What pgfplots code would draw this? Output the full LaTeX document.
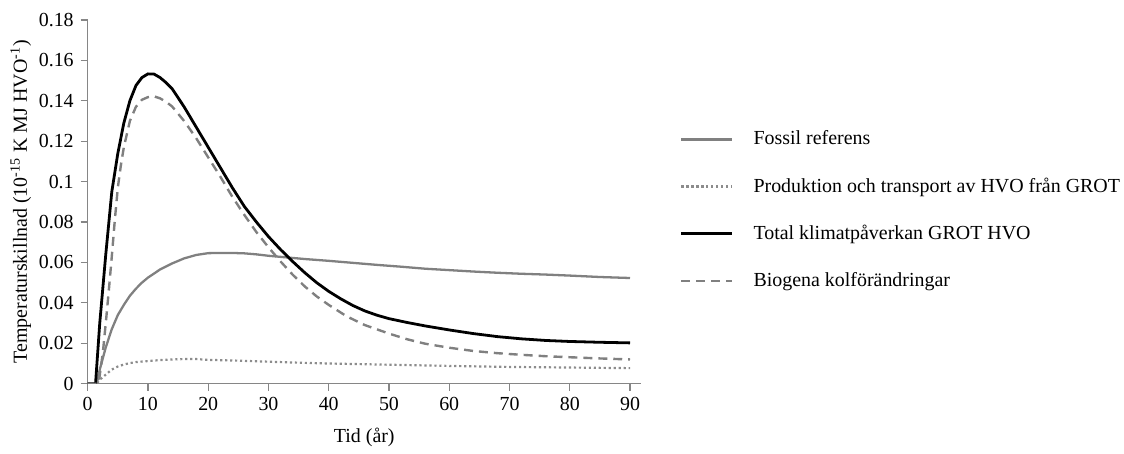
\documentclass[border=0pt]{standalone}
\usepackage{fontspec}
\setmainfont{Liberation Serif}
\usepackage{pgfplots}
\pgfplotsset{compat=1.18}

\definecolor{axgray}{RGB}{134,134,134}
\definecolor{lgray}{RGB}{128,128,128}
\definecolor{dgray}{RGB}{140,140,140}

\begin{document}
\begin{tikzpicture}
\begin{axis}[
  name=ax,
  scale only axis,
  width=277.5pt, height=182.5pt,
  xmin=0, xmax=91.8, ymin=0, ymax=0.18,
  axis lines*=left,
  axis line style={axgray, line width=0.6pt},
  every tick/.style={axgray, line width=0.6pt},
  tick align=outside, major tick length=3.5pt,
  xtick={0,10,...,90},
  ytick={0,0.02,...,0.18},
  scaled y ticks=false,
  yticklabel style={/pgf/number format/fixed, /pgf/number format/precision=2},
  /pgf/number format/assume math mode=true,
  ticklabel style={font=\fontsize{10}{11}\selectfont},
  label style={font=\fontsize{10}{11}\selectfont},
  xlabel={Tid (år)},
  ylabel={Temperaturskillnad (10\textsuperscript{-15} K MJ HVO\textsuperscript{-1})},
  xlabel style={yshift=-1.5pt},
  ylabel style={yshift=-3pt},
  legend style={draw=none, fill=none, at={(1.07,0.477)}, anchor=west,
    font=\fontsize{10}{11}\selectfont, row sep=11pt, inner sep=0pt},
  legend cell align=left,
  legend image code/.code={\draw[#1] (0pt,0pt) -- (25.5pt,0pt);},
  every axis legend/.append style={/tikz/every odd column/.append style={column sep=8pt}},
]
\addplot[lgray, line width=1.15pt] coordinates {
(0,0) (1.5,0) (2,0.007) (3,0.018) (4,0.027) (5,0.034) (6,0.039) (7,0.0435)
(8,0.047) (9,0.050) (10,0.0525) (12,0.0565) (14,0.0595) (16,0.062) (18,0.0637)
(20,0.0646) (22,0.0647) (24,0.0647) (26,0.0645) (28,0.064) (30,0.0633) (33,0.0625)
(36,0.0617) (40,0.0608) (44,0.0598) (48,0.0588) (52,0.0579) (56,0.0569) (60,0.0562)
(64,0.0555) (68,0.0549) (72,0.0544) (76,0.054) (80,0.0535) (85,0.0528) (90,0.0523)};
\addlegendentry{Fossil referens}
\addplot[dgray, line width=1.1pt, dash pattern=on 1.1pt off 1.4pt] coordinates {
(0,0) (1.5,0) (2,0.002) (3,0.0045) (4,0.0070) (5,0.0085) (6,0.0095) (7,0.0102)
(8,0.0107) (10,0.0112) (12,0.0117) (14,0.012) (16,0.0122) (18,0.0122) (20,0.0118)
(25,0.0114) (30,0.0109) (35,0.0104) (40,0.0100) (45,0.0097) (50,0.0094) (55,0.0091)
(60,0.0088) (70,0.0083) (80,0.0080) (90,0.0077)};
\addlegendentry{Produktion och transport av HVO från GROT}
\addplot[black, line width=1.4pt] coordinates {
(0,0) (1.3,0) (2,0.030) (3,0.064) (4,0.095) (5,0.114) (6,0.129) (7,0.140) (8,0.1475)
(9,0.1515) (10,0.1533) (11,0.1532) (12,0.1515) (13,0.149) (14,0.146) (16,0.137)
(18,0.127) (20,0.117) (22,0.107) (24,0.097) (26,0.0877) (28,0.0800) (30,0.0728)
(32,0.0664) (34,0.0605) (36,0.0550) (38,0.0500) (40,0.0457) (42,0.042) (44,0.0387)
(46,0.036) (48,0.0339) (50,0.0322) (53,0.0303) (56,0.0286) (60,0.0266) (64,0.0248)
(68,0.0233) (72,0.0222) (76,0.0214) (80,0.0209) (85,0.0205) (90,0.0202)};
\addlegendentry{Total klimatpåverkan  GROT HVO}
\addplot[lgray, line width=1.2pt, dash pattern=on 4.5pt off 3pt] coordinates {
(0,0) (1.8,0) (2.5,0.015) (3,0.030) (3.5,0.046) (4,0.063) (4.5,0.081) (5,0.097)
(5.5,0.108) (6,0.117) (7,0.130) (8,0.137) (9,0.1405) (10,0.1418) (11,0.1422) (12,0.1412)
(13,0.1395) (14,0.1372) (16,0.130) (18,0.1215) (20,0.112) (22,0.1025) (24,0.0925)
(26,0.0835) (28,0.0750) (30,0.0675) (32,0.0605) (34,0.054) (36,0.0482) (38,0.0432)
(40,0.039) (43,0.0333) (46,0.029) (50,0.0248) (53,0.0220) (56,0.0198) (60,0.0178)
(64,0.0162) (68,0.0151) (72,0.0143) (76,0.0136) (80,0.0131) (85,0.0125) (90,0.012)};
\addlegendentry{Biogena kolförändringar}
\end{axis}
\path (ax.south west) ++(-44pt,-31.5pt) (ax.south west) ++(518pt,192.5pt);
\end{tikzpicture}
\end{document}
